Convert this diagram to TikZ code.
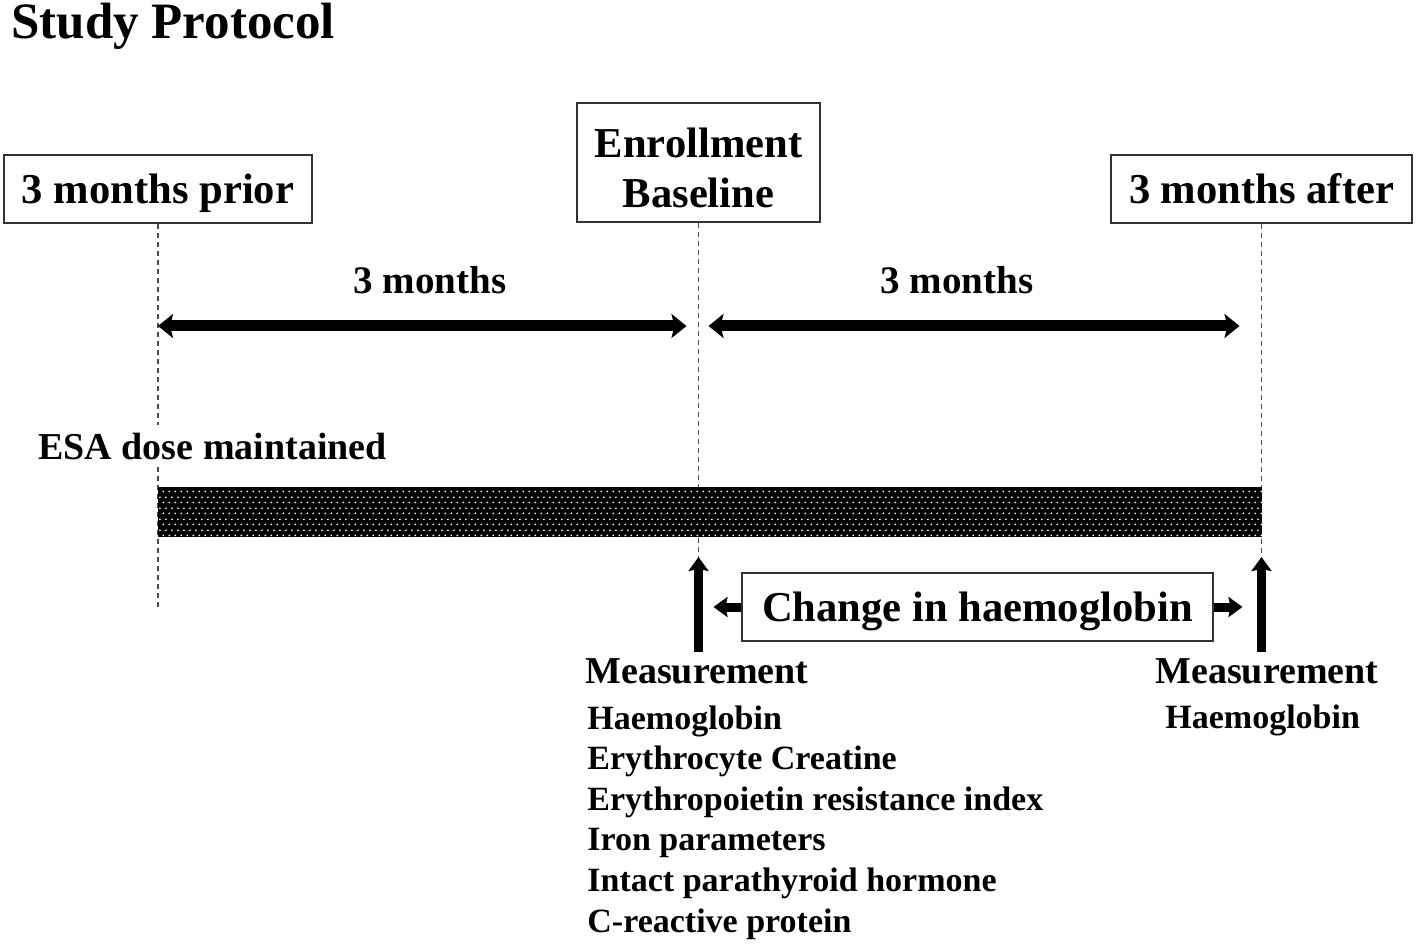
\documentclass[tikz,border=0pt]{standalone}
\usepackage{fontspec}
\setmainfont{Liberation Serif}
\usetikzlibrary{arrows.meta, positioning, patterns, patterns.meta}

\tikzdeclarepattern{
  name=esadots,
  type=uncolored,
  bounding box={(0pt,0pt) and (2.8pt,5.5pt)},
  tile size={(2.8pt,5.5pt)},
  code={
    \fill (0.7pt,1.375pt) circle (0.5pt);
    \fill (2.1pt,4.125pt) circle (0.5pt);
  }
}

\begin{document}
\begin{tikzpicture}[x=0.5pt, y=-0.5pt,
  stage/.style={draw=black!80, line width=0.8pt, inner xsep=9pt, minimum height=34pt,
    text height=19pt, text depth=4.6pt, font=\fontsize{21.3}{25}\selectfont\bfseries},
  stagetwo/.style={draw=black!80, line width=0.8pt, inner xsep=9pt, minimum height=59.5pt,
    align=center, font=\fontsize{21.3}{25}\selectfont\bfseries},
  span/.style={inner sep=0pt, anchor=base, font=\fontsize{19.5}{23}\selectfont\bfseries},
  meas/.style={inner xsep=0pt, inner ysep=3pt, anchor=base west, font=\fontsize{19}{23}\selectfont\bfseries},
  item/.style={inner sep=0pt, anchor=base west, font=\fontsize{17}{20}\selectfont\bfseries},
  guide/.style={draw=black!70, line width=0.7pt, dash pattern=on 2.5pt off 2pt},
  longarrow/.style={line width=5.5pt, {Stealth[length=7.5pt, width=12pt, inset=1.5pt]}-{Stealth[length=7.5pt, width=12pt, inset=1.5pt]}},
  uparrow/.style={line width=4.5pt, -{Stealth[length=7pt, width=10pt, inset=1pt]}},
  sidearrow/.style={line width=4.5pt, -{Stealth[length=7pt, width=10pt, inset=1pt]}}]
  \useasboundingbox (0,0) rectangle (1416,945);

  % Title
  \node[inner sep=0pt, anchor=base west, font=\fontsize{25.5}{30}\selectfont\bfseries] (title) at (11,39) {Study Protocol};

  % Time points
  \node[stage] (prior) at (158,189) {3 months prior};
  \node[stagetwo] (enroll) at (698.5,162.5) {\rule{0pt}{20pt}Enrollment\\Baseline};
  \node[stage] (after) at (1261.5,189) {3 months after};

  % Guide lines
  \coordinate (lowL) at (158,610);
  \coordinate (tipy) at (0,557);
  \draw[guide] (prior.south) -- (lowL);
  \draw[guide] (enroll.south) -- (enroll.south |- tipy);
  \draw[guide] (after.south) -- (after.south |- tipy);

  % Periods
  \coordinate (row) at (0,326);
  \node[span] (spanA) at (430,294) {3 months};
  \node[span] (spanB) at (957,294) {3 months};
  \draw[longarrow, shorten >=6pt] (prior.south |- row) -- (enroll.south |- row);
  \draw[longarrow, shorten <=5pt, shorten >=11pt] (enroll.south |- row) -- (after.south |- row);

  % ESA dose
  \node[fill=white, inner sep=4pt, anchor=base west, font=\fontsize{19}{23}\selectfont\bfseries] (esa) at (30,459) {ESA dose maintained};
  \node[inner sep=0pt, outer sep=0pt, minimum width=552pt, minimum height=25pt,
    preaction={fill=black}, pattern=esadots, pattern color=white] (dose) at (710,512) {};

  % Change in haemoglobin
  \node[stage, inner xsep=10pt] (chg) at (977.5,607) {Change in haemoglobin};
  \draw[sidearrow, shorten >=7.5pt] (chg.west) -- (enroll.south |- chg.west);
  \draw[sidearrow, shorten >=9.5pt] (chg.east) -- (after.south |- chg.east);

  % Measurements
  \node[meas] (measL) at (585,683) {Measurement};
  \node[meas] (measR) at (1155,683) {Measurement};
  \draw[uparrow] (enroll.south |- measL.north) -- (enroll.south |- tipy);
  \draw[uparrow] (after.south |- measR.north) -- (after.south |- tipy);

  \foreach \txt [count=\i] in {Haemoglobin, Erythrocyte Creatine, Erythropoietin resistance index,
    Iron parameters, Intact parathyroid hormone, C-reactive protein}
    \node[item] (itemL\i) at (587, {729+40.6*(\i-1)}) {\txt};
  \node[item] (itemR) at (1165,728) {Haemoglobin};
\end{tikzpicture}
\end{document}
